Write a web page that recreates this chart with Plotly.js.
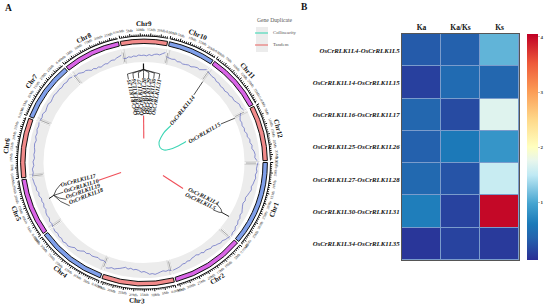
<!DOCTYPE html>
<html><head><meta charset="utf-8">
<script src="https://cdn.plot.ly/plotly-3.0.1.min.js"></script>
<style>html,body{margin:0;padding:0;background:#fff}#c{width:550px;height:305px}</style>
</head><body><div id="c"></div>
<script>
// ---------- data ----------
const chrNames = ['Chr1','Chr2','Chr3','Chr4','Chr5','Chr6','Chr7','Chr8','Chr9','Chr10','Chr11','Chr12'];
const chrLengthsMb = [42.3,36.3,36.3,35.2,28.8,29.9,29.9,28.8,23.5,23.5,28.8,27.8];
const chrColors = ['#7f9fea','#d964e6','#f28a8a','#7f9fea','#d964e6','#f28a8a','#7f9fea','#d964e6','#f28a8a','#7f9fea','#d964e6','#f28a8a'];
const density = [
 [15,14.2,13.6,14.3,13,13.8,12.8,12.2,11,11.8,10.6,9.6,8.4,9.2,8,8.7,9.8,11,10.4,12,11.6,13.2,12.6,14.4,13.8,15],
 [14.4,13.6,13,11.6,12.2,11,10.4,9,9.8,8.9,8.2,9.2,7.6,8.4,7,7.7,8,9.4,8.6,10,9.5,11,11.6,12.1,12.6],
 [12.4,11.4,12,11,11.7,12.6,13.4,12.4,12.9,11.2,10,10.7,9,8.2,8.8,7.6,8.8,7.4,8.5,9.6,10.4,11.6,11,12.4,13],
 [8.4,7,7.8,6.6,7.4,8,7.2,8.6,8,10,11.4,10.7,12.6,14,13.2,14.4,13,13.8,12.6,13.6,12.8],
 [12.6,11.6,12.2,10.8,11.5,11.2,9.8,10.6,9.4,10.2,9.6,11.2,10.4,12,11.6,12.6,13,13.6],
 [13.4,12.2,12.8,11.2,12,10.6,11.4,10.8,11.6,12,11,12.4,11.8,13,12.4,13.4],
 [13.2,12.4,13.4,11.8,12.6,13.2,12,12.7,13.4,12.6,13,12.2,13.2,12.4,13.6,12.6],
 [12,11.2,11.7,10.4,9.4,9.9,8.6,7,7.6,6.2,6.8,5.6,6.4,7,6.2,7.6,8.2,7.7,9,9.8,10.6],
 [7,6.6,7.8,7,8,7.4,8.6,8,8.4,7.7,9,8.2,9.6,10.2,9.7,11.4,13],
 [9.2,8.4,8,8.6,7.2,7.8,6.8,7.4,8.2,7.6,9,9.8,9.2,11,13],
 [12,11.4,10.6,11,9.6,10.2,9,9.6,8.8,10,9.4,10.8,10.2,11.4,12.8,12.2,13.6],
 [9.4,7.4,6,6.6,5.8,7,6.2,8,7.4,9.4,8.8,10.4,9.8,11.6,12.4,11.9,14]
];
const collinearityTheta = [36.1,33.7,34.2,36.9,46.8,58,62.5,64.1,63.4];
const collinearityR = [45.8,36,30.2,25,22,23.6,28.2,36.7,47];
const tandemTheta = [[-0.5,-0.5],[248.6,246.5],[124.4,123.7]];
const tandemR = [[47,24],[49.4,25],[23,46.9]];
const topGenes = ['OsCrRLK1L25','OsCrRLK1L26','OsCrRLK1L27','OsCrRLK1L28','OsCrRLK1L29','OsCrRLK1L30','OsCrRLK1L31'];
const leftGenes = ['OsCrRLK1L17','OsCrRLK1L16','OsCrRLK1L19','OsCrRLK1L18'];
const rightGenes = ['OsCrRLK1L4','OsCrRLK1L5'];
const pairs = ['OsCrRLK1L4-OsCrRLK1L5','OsCrRLK1L14-OsCrRLK1L15','OsCrRLK1L16-OsCrRLK1L17','OsCrRLK1L25-OsCrRLK1L26','OsCrRLK1L27-OsCrRLK1L28','OsCrRLK1L30-OsCrRLK1L31','OsCrRLK1L34-OsCrRLK1L35'];
const metrics = ['Ka','Ka/Ks','Ks'];
const kaValues   = [0.30,0.10,0.40,0.35,0.42,0.65,0.02];
const kaksValues = [0.35,0.45,0.18,0.60,0.25,0.12,0.12];
const ksValues   = [1.10,0.40,1.70,0.85,1.55,4.00,0.05];

// ---------- geometry helpers ----------
const W=550,H=305,CX=144,CY=162.5,RMAX=140;
const SERIF='Liberation Serif';
const degPerMb=(360-12*0.9)/chrLengthsMb.reduce((a,b)=>a+b,0);
let t=90; const chrStart=[],chrSpan=[];
chrLengthsMb.forEach(L=>{chrStart.push(t);chrSpan.push(L*degPerMb);t+=L*degPerMb+0.9;});
const toPaper=(th,r)=>{const a=th*Math.PI/180;return{x:(CX+r*Math.sin(a))/W,y:1-(CY-r*Math.cos(a))/H};};
const norm=a=>{a=((a%360)+360)%360;return a;};
const tangent=th=>{const a=norm(th);if(a<=90)return a;if(a<270)return a-180;return a-360;};
const annotations=[];
const note=(th,r,text,angle,size,color)=>{const p=toPaper(th,r);annotations.push({xref:'paper',yref:'paper',x:p.x,y:p.y,text,textangle:angle,showarrow:false,xanchor:'center',yanchor:'middle',font:{family:SERIF,size,color:color||'#111'}});};
const paperNote=(px,py,text,size,color,anchor)=>annotations.push({xref:'paper',yref:'paper',x:px/W,y:1-py/H,text,showarrow:false,xanchor:anchor||'left',yanchor:'middle',font:{family:SERIF,size,color}});

const traces=[];
const ring=(base,thick,colors,lineW,lineC)=>traces.push({type:'barpolar',subplot:'polar',theta:chrStart.map((s,i)=>s+chrSpan[i]/2),width:chrSpan,r:chrSpan.map(()=>thick),base:chrSpan.map(()=>base),marker:{color:colors,line:{width:lineW,color:lineC}},hoverinfo:'skip',showlegend:false});
const polyline=(th,r,color,width,extra)=>traces.push(Object.assign({type:'scatterpolar',subplot:'polar',mode:'lines',theta:th,r:r,line:{color,width},hoverinfo:'skip',showlegend:false,connectgaps:false},extra||{}));

// gray band, ideogram, tick baseline
ring(100.5,15,chrSpan.map(()=>'#ececec'),0,'#ececec');
ring(119,4.4,chrColors,1,'#111');
ring(126,0.9,chrSpan.map(()=>'#111'),0,'#111');

// scale ticks and labels
const tkT=[],tkR=[],mjT=[],mjR=[];
chrLengthsMb.forEach((L,i)=>{
  for(let m=0;m<=L;m++){const th=chrStart[i]+m*degPerMb;
    if(m%5===0){mjT.push(th,th,null);mjR.push(126.5,129.2,null);
      note(th,132.5,m===0?'0.00Mb':m+'Mb',tangent(th),3.6,'#222');}
    else{tkT.push(th,th,null);tkR.push(126.5,128.2,null);}
  }
  const mid=chrStart[i]+chrSpan[i]/2;
  note(mid,138.2,'<b>'+chrNames[i]+'</b>',tangent(mid),7,'#111');
});
polyline(tkT,tkR,'#000',0.9);
polyline(mjT,mjR,'#000',1);

// boundary marks in the band
const bT=[],bR=[],dT=[],dR=[];
chrStart.forEach(s=>{bT.push(s-0.5,s-0.5,null,s+1.1,s+1.1,null);bR.push(100.5,115.5,null,100.5,115.5,null);dT.push(s+0.3,s+0.3,null);dR.push(102,112,null);});
polyline(bT,bR,'#c2c2c2',0.6);
polyline(dT,dR,'#888',0.7,{});

// density line
density.forEach((vals,i)=>{const th=vals.map((_,k)=>chrStart[i]+chrSpan[i]*k/(vals.length-1));polyline(th,vals.map(v=>99+v),'#666dc4',0.75);});

// links
polyline(collinearityTheta,collinearityR,'#3fd6b6',1.1,{line:{color:'#3fd6b6',width:1.1,shape:'spline'}});
tandemTheta.forEach((th,i)=>polyline(th,tandemR[i],'#f0505a',1.1));

// gene labels, top group
const topTh=[-10.6,-7.1,-3.6,-0.3,3.1,6.6,10.1];
topGenes.forEach((g,i)=>{note(topTh[i],66,'<b><i>'+g+'</i></b>',topTh[i]-90,5.8,'#111');
  polyline([-0.3,topTh[i],topTh[i]],[93,90,84.5],'#111',0.7);});
polyline([-0.3,-0.3],[99,93],'#111',1.2);
// left group
const leftTh=[255.4,249.8,244.6,239.8],leftAng=[-15,-17,-19,-21];
leftGenes.forEach((g,i)=>{note(leftTh[i],67.5,'<b><i>'+g+'</i></b>',leftAng[i],5.8,'#111');
  polyline([250,(250+leftTh[i])/2,leftTh[i]],[96,92,86],'#111',0.7);});
polyline([249.2,250],[101.6,96],'#111',1);
// right group
const rightTh=[119.7,124.4],rightAng=[26,25];
rightGenes.forEach((g,i)=>{note(rightTh[i],68,'<b><i>'+g+'</i></b>',rightAng[i],5.8,'#111');
  polyline([122.7,(122.7+rightTh[i])/2,rightTh[i]],[92.6,90,84],'#111',0.7);});
polyline([122.4,122.7],[100.7,92.6],'#111',0.9);
// collinear gene labels
note(36.2,65,'<b><i>OsCrRLK1L14</i></b>',-51,5.8,'#111');
note(63.4,67,'<b><i>OsCrRLK1L15</i></b>',-30,5.8,'#111');
polyline([36.4,36],[84,100],'#222',0.8);
polyline([63.4,64],[86,101],'#222',0.8);

// heatmap panel
const z=pairs.map((_,i)=>[kaValues[i],kaksValues[i],ksValues[i]]);
traces.push({type:'heatmap',x:metrics,y:pairs,z:z,xaxis:'x',yaxis:'y',zmin:-0.04,zmax:4.05,xgap:1,ygap:1,hoverinfo:'skip',
 colorscale:[[0,'#2a2e95'],[0.1,'#2464ae'],[0.16,'#1b7ab9'],[0.25,'#45a4d0'],[0.375,'#bfe9f4'],[0.44,'#e8f6ec'],[0.5,'#ffffbf'],[0.62,'#fed98a'],[0.75,'#fb9a55'],[0.87,'#ee5a3a'],[1,'#c00025']],
 colorbar:{x:527/W,xanchor:'left',xref:'paper',y:1-34/H,yanchor:'top',yref:'paper',lenmode:'pixels',len:226,thicknessmode:'pixels',thickness:11,xpad:0,ypad:0,outlinewidth:0,tickvals:[1,2,3,4],ticktext:['<b>1</b>','<b>2</b>','<b>3</b>','<b>4</b>'],ticks:'outside',ticklen:2,tickcolor:'#999',tickwidth:0.6,tickfont:{family:SERIF,size:5,color:'#333'}}});

// titles, legend
paperNote(3,8,'<b>A</b>',9.5,'#111');
paperNote(299,7,'<b>B</b>',9.5,'#111');
paperNote(255,20,'Gene Duplicate',5.6,'#555');
paperNote(271,33,'Collinearity',4.8,'#555');
paperNote(271,45,'Tandem',4.8,'#555');

const rect=(x0,y0,x1,y1,c)=>({type:'rect',xref:'paper',yref:'paper',x0:x0/W,x1:x1/W,y0:1-y0/H,y1:1-y1/H,fillcolor:c,line:{width:0},layer:'below'});
const seg=(x0,x1,y,c)=>({type:'line',xref:'paper',yref:'paper',x0:x0/W,x1:x1/W,y0:1-y/H,y1:1-y/H,line:{color:c,width:1}});

Plotly.newPlot('c',traces,{
 width:W,height:H,margin:{l:0,r:0,t:0,b:0},paper_bgcolor:'#fff',plot_bgcolor:'#7a9ccc',showlegend:false,
 polar:{domain:{x:[(CX-RMAX)/W,(CX+RMAX)/W],y:[(H-CY-RMAX)/H,(H-CY+RMAX)/H]},bgcolor:'rgba(0,0,0,0)',
   radialaxis:{range:[0,RMAX],visible:false,showgrid:false},
   angularaxis:{visible:false,direction:'clockwise',rotation:90,showgrid:false},bargap:0},
 xaxis:{domain:[402/W,519/W],side:'top',type:'category',ticks:'',ticklen:0,showline:true,mirror:true,linecolor:'#555',linewidth:1,showgrid:false,zeroline:false,
   tickvals:metrics,ticktext:metrics.map(m=>'<b>'+m+'</b>'),tickfont:{family:SERIF,size:7.5,color:'#111'}},
 yaxis:{domain:[1-260/H,1-34/H],type:'category',autorange:'reversed',ticks:'',ticklen:0,showline:true,mirror:true,linecolor:'#555',linewidth:1,showgrid:false,zeroline:false,
   tickvals:pairs,ticktext:pairs.map(p=>'<b><i>'+p+'</i></b>'),tickfont:{family:SERIF,size:6.8,color:'#111'}},
 annotations,
 shapes:[rect(256,27,268,52,'#ececec'),seg(255,268,33,'#2fd6b0'),seg(255,268,45,'#e8605f')]
},{staticPlot:true,displayModeBar:false});
</script></body></html>
